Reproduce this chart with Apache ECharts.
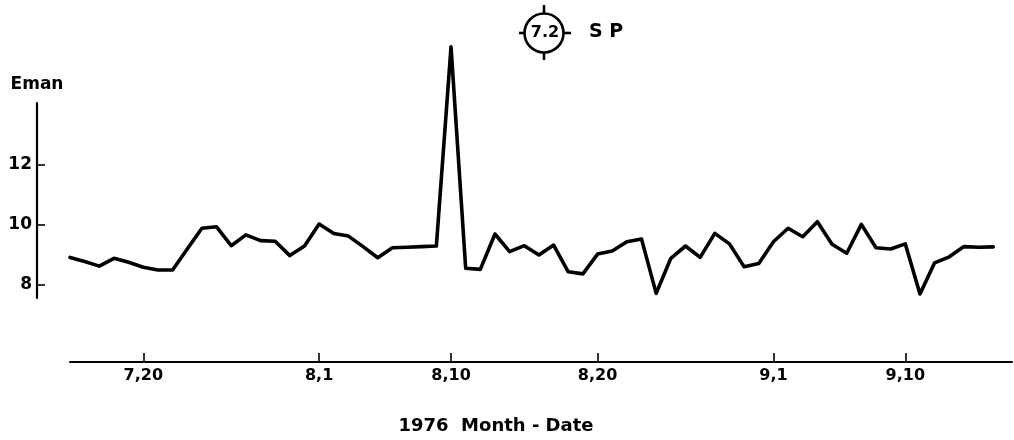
<!DOCTYPE html>
<html>
<head>
<meta charset="utf-8">
<script src="https://cdn.jsdelivr.net/npm/echarts@6/dist/echarts.min.js"></script>
<style>
  html, body { margin: 0; padding: 0; background: #fff; }
  #chart { width: 1014px; height: 440px; }
</style>
</head>
<body>
<div id="chart"></div>
<script>
// Daily Eman values, 1976, starting 15 July (index 0) through 16 September.
const firstDay = '7/15';
const eman = [
  8.92, 8.78, 8.63, 8.89, 8.76, 8.59, 8.50, 8.50, 9.20, 9.89,
  9.94, 9.31, 9.67, 9.48, 9.46, 8.98, 9.30, 10.03, 9.72, 9.63,
  9.28, 8.91, 9.24, 9.26, 9.28, 9.30, 15.94, 8.56, 8.52, 9.70,
  9.11, 9.31, 9.00, 9.33, 8.44, 8.37, 9.03, 9.13, 9.44, 9.53,
  7.72, 8.89, 9.30, 8.92, 9.72, 9.37, 8.61, 8.72, 9.44, 9.89,
  9.61, 10.11, 9.36, 9.06, 10.02, 9.24, 9.20, 9.37, 7.70, 8.74,
  8.94, 9.28, 9.26, 9.27
];

// Date ticks along the time axis (month, day) and their printed labels
const tickDates = [[7, 20], [8, 1], [8, 10], [8, 20], [9, 1], [9, 10]];
const tickLabels = ['7,20', '8,1', '8,10', '8,20', '9,1', '9,10'];

// Value ticks on the Eman axis
const yTicks = [8, 10, 12];

// day index counted from the first observation
function dayIndex(m, d) {
  const [m0, d0] = firstDay.split('/').map(Number);
  const t0 = Date.UTC(1976, m0 - 1, d0);
  return Math.round((Date.UTC(1976, m - 1, d) - t0) / 86400000);
}
const tickIdx = tickDates.map(([m, d]) => dayIndex(m, d));
const points = eman.map((v, i) => [i, v]);

const FONT = '"DejaVu Sans", sans-serif';
const INK = '#000';

const chart = echarts.init(document.getElementById('chart'), null, { renderer: 'canvas' });
chart.setOption({
  animation: false,
  backgroundColor: '#fff',
  grid: [
    // plotting area for the series (bottom edge = time axis)
    { left: 70, right: 2, top: 40, bottom: 78 },
    // short free-standing Eman axis
    { left: 37, width: 10, top: 103, height: 195 }
  ],
  xAxis: [
    {
      type: 'value', gridIndex: 0, min: 0, max: 64.28,
      axisLine: { show: true, lineStyle: { color: INK, width: 2 } },
      axisTick: { show: true, inside: true, length: 9, customValues: tickIdx,
                  lineStyle: { color: INK, width: 1.6 } },
      axisLabel: {
        show: true, customValues: tickIdx, margin: 6,
        color: INK, fontFamily: FONT, fontWeight: 'bold', fontSize: 16,
        formatter: v => tickLabels[tickIdx.indexOf(Math.round(v))] || ''
      },
      splitLine: { show: false }
    },
    { type: 'value', gridIndex: 1, show: false, min: 0, max: 1 }
  ],
  yAxis: [
    { type: 'value', gridIndex: 0, min: 5.4333, max: 16.1667, show: false, splitLine: { show: false } },
    {
      type: 'value', gridIndex: 1, min: 7.5667, max: 14.0667,
      name: 'Eman', nameLocation: 'end', nameGap: 10,
      nameTextStyle: { color: INK, fontFamily: FONT, fontWeight: 'bold', fontSize: 17, align: 'center' },
      axisLine: { show: true, lineStyle: { color: INK, width: 2.2 } },
      axisTick: { show: true, inside: true, length: 8, customValues: yTicks,
                  lineStyle: { color: INK, width: 1.6 } },
      axisLabel: { show: true, customValues: yTicks, margin: 5,
                   color: INK, fontFamily: FONT, fontWeight: 'bold', fontSize: 17 },
      splitLine: { show: false }
    }
  ],
  series: [{
    type: 'line', xAxisIndex: 0, yAxisIndex: 0,
    data: points, showSymbol: false, symbol: 'none',
    lineStyle: { color: INK, width: 3.6, join: 'round', cap: 'round' }
  }],
  graphic: [
    // station marker: ringed "7.2" with crosshair ticks, then station code
    { type: 'circle', shape: { cx: 544, cy: 33, r: 19.5 }, style: { fill: 'none', stroke: INK, lineWidth: 2.6 } },
    { type: 'line', shape: { x1: 544, y1: 5, x2: 544, y2: 14 }, style: { stroke: INK, lineWidth: 2.6 } },
    { type: 'line', shape: { x1: 544, y1: 52, x2: 544, y2: 60 }, style: { stroke: INK, lineWidth: 2.6 } },
    { type: 'line', shape: { x1: 519, y1: 33, x2: 525, y2: 33 }, style: { stroke: INK, lineWidth: 2.6 } },
    { type: 'line', shape: { x1: 563, y1: 33, x2: 571, y2: 33 }, style: { stroke: INK, lineWidth: 2.6 } },
    { type: 'text', x: 545, y: 33,
      style: { text: '7.2', fill: INK, font: 'bold 16px ' + FONT, align: 'center', verticalAlign: 'middle' } },
    { type: 'text', x: 589, y: 32,
      style: { text: 'S P', fill: INK, font: 'bold 19px ' + FONT, align: 'left', verticalAlign: 'middle' } },
    // time axis title
    { type: 'text', x: 496, y: 426,
      style: { text: '1976  Month - Date', fill: INK, font: 'bold 18px ' + FONT, align: 'center', verticalAlign: 'middle' } }
  ]
});
</script>
</body>
</html>
